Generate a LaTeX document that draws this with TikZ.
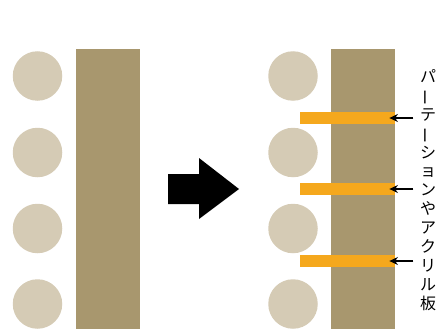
\documentclass[tikz,border=0pt]{standalone}
\usepackage{fontspec}
\usepackage{graphicx}
\newfontfamily\jpfont{Noto Sans CJK JP}
\usetikzlibrary{arrows.meta,positioning}
\definecolor{seatbeige}{RGB}{213,203,181}
\definecolor{wallbrown}{RGB}{168,151,110}
\definecolor{panelorange}{RGB}{245,168,29}
\tikzset{
  seat/.style={circle, fill=seatbeige, minimum size=49.5pt, inner sep=0pt},
  wall/.style={rectangle, fill=wallbrown, inner sep=0pt, minimum width=64pt, minimum height=280pt, anchor=north west},
  panel/.style={rectangle, fill=panelorange, inner sep=0pt, minimum width=95pt, minimum height=11.5pt, anchor=west},
  pointer/.style={-{Stealth[length=8.5pt,width=8pt]}, line width=1.8pt},
  caption/.style={font=\jpfont\fontsize{16}{18.9}\selectfont, align=center, inner sep=0pt}
}
\newcommand{\vbar}{\rotatebox[origin=c]{90}{ー}}

\begin{document}
\begin{tikzpicture}[x=1pt, y=-1pt]
\useasboundingbox (0,0) rectangle (441,329);

% 左：仕切りなし
\foreach \y [count=\i] in {76,152.5,228.5,304}
  \node[seat] (ls\i) at (37.5,\y) {};
\node[wall] (lwall) at (76,49) {};

% 中央の矢印
\fill (168,174) -- (199,174) -- (199,158) -- (239,189) -- (199,219)
  -- (199,204) -- (168,204) -- cycle;

% 右：仕切りあり
\foreach \y [count=\i] in {76,152.5,228.5,304}
  \node[seat] (rs\i) at (293,\y) {};
\node[wall] (rwall) at (331,49) {};
\foreach \y [count=\i] in {118,189,261}
  \node[panel] (p\i) at (300,\y) {};

% 縦書きラベル
\node[caption] (label) at (428,190)
  {パ\\\vbar\\テ\\\vbar\\シ\\ョ\\ン\\や\\ア\\ク\\リ\\ル\\板};

% 引き出し線
\foreach \i in {1,2,3} {
  \coordinate (tag\i) at ([xshift=18pt]p\i.east);
  \draw[pointer] (tag\i) -- ([xshift=-6pt]p\i.east);
}

\end{tikzpicture}
\end{document}
